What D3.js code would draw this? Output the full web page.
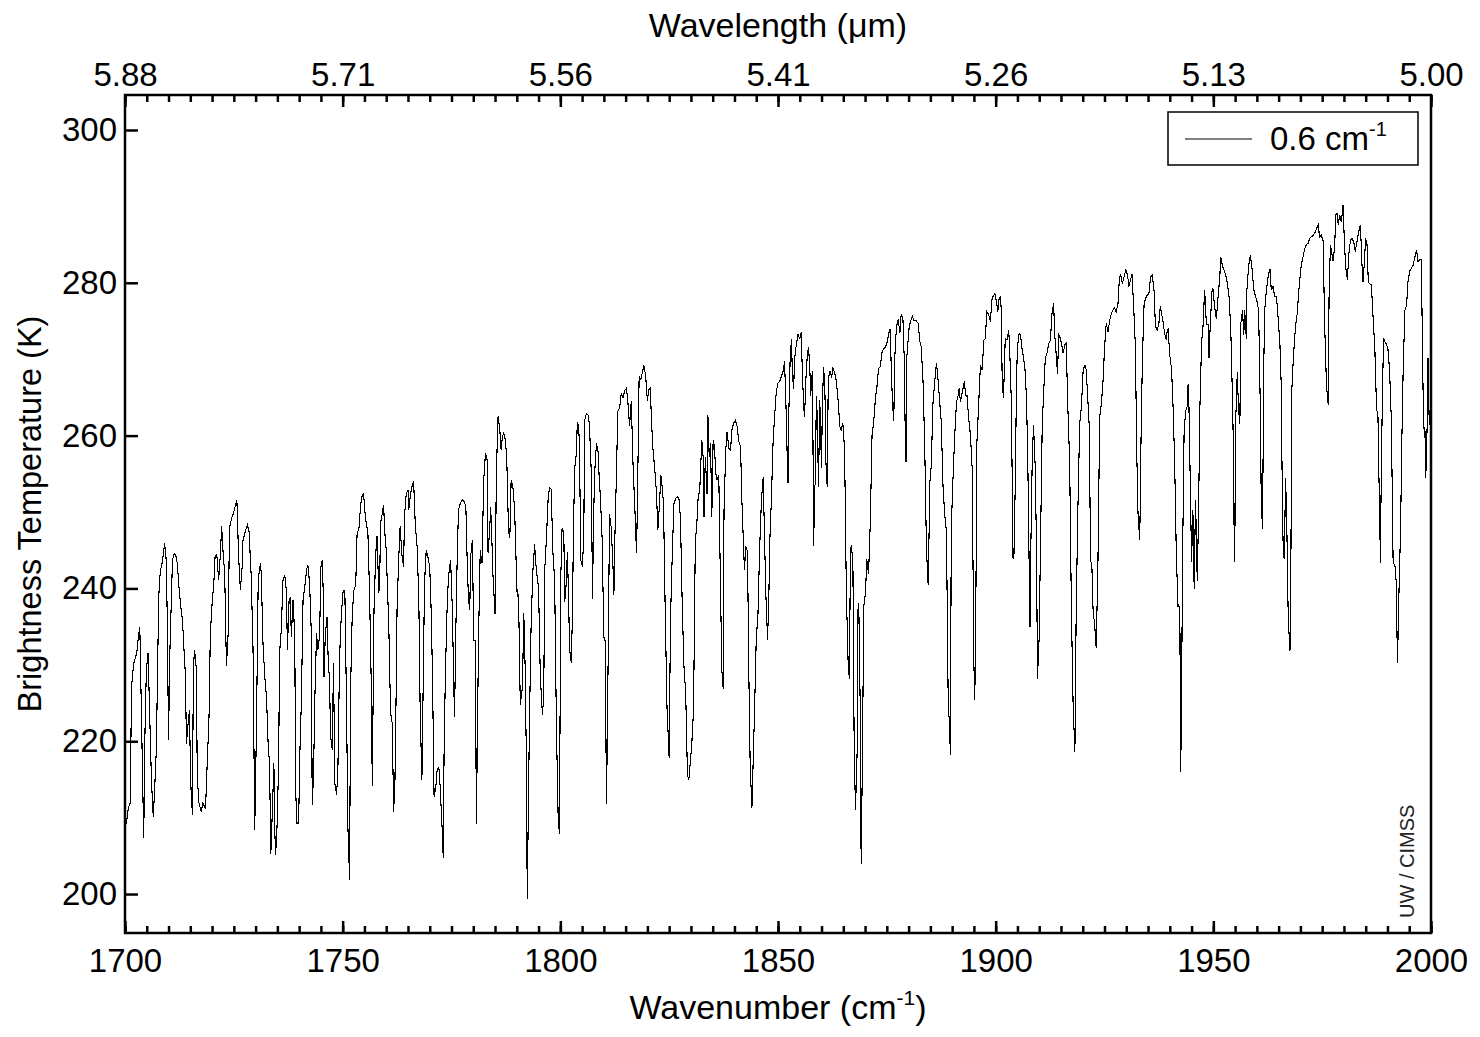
<!DOCTYPE html>
<html>
<head>
<meta charset="utf-8">
<script src="https://cdn.jsdelivr.net/npm/d3@7"></script>
<style>
  body { margin: 0; background: #fff; }
  figure { margin: 0; }
  svg { display: block; }
  text { font-family: "Liberation Sans", Arial, Helvetica, sans-serif; }
</style>
</head>
<body>
<figure id="spectrum"></figure>
<script>
// wavenumber (cm-1) and brightness temperature (K)
const wavenumber = [
  1700.0, 1700.3, 1700.8, 1701.2, 1701.5, 1702.0, 1702.7, 1703.0, 1703.4, 1703.8,
  1704.3, 1704.6, 1704.9, 1705.3, 1705.7, 1706.1, 1706.5, 1706.8, 1707.2, 1707.6,
  1707.8, 1708.1, 1708.6, 1709.1, 1709.5, 1709.7, 1710.0, 1710.3, 1710.9, 1711.3,
  1711.7, 1712.0, 1712.4, 1712.8, 1713.2, 1713.6, 1713.9, 1714.1, 1714.5, 1714.8,
  1715.1, 1715.5, 1715.7, 1716.0, 1716.4, 1716.6, 1717.0, 1717.5, 1717.9, 1718.5,
  1718.8, 1719.3, 1719.6, 1720.0, 1720.4, 1720.7, 1721.1, 1721.5, 1721.9, 1722.2,
  1722.5, 1722.9, 1723.3, 1723.7, 1724.0, 1724.5, 1724.9, 1725.3, 1725.7, 1726.1,
  1726.5, 1726.9, 1727.1, 1727.7, 1728.1, 1728.5, 1729.0, 1729.4, 1729.8, 1730.2,
  // 1730 - 1760
  1730.6, 1731.1, 1731.3, 1731.7, 1732.1, 1732.5, 1732.9, 1733.2, 1733.5, 1733.8,
  1734.2, 1734.4, 1734.6, 1734.9, 1735.3, 1735.5, 1735.9, 1736.3, 1736.7, 1737.1,
  1737.3, 1737.7, 1738.0, 1738.2, 1738.6, 1739.0, 1739.2, 1739.5, 1739.9, 1740.1,
  1740.5, 1740.9, 1741.3, 1741.7, 1742.0, 1742.4, 1742.8, 1743.0, 1743.3, 1743.6,
  1744.0, 1744.3, 1744.7, 1745.0, 1745.3, 1745.5, 1745.7, 1746.0, 1746.4, 1746.7,
  1747.0, 1747.2, 1747.6, 1747.9, 1748.2, 1748.6, 1748.9, 1749.3, 1749.7, 1750.1,
  1750.5, 1750.9, 1751.2, 1751.6, 1751.8, 1752.2, 1752.6, 1753.0, 1753.3, 1753.8,
  1754.1, 1754.5, 1754.8, 1755.2, 1755.8, 1756.2, 1756.6, 1756.8, 1757.2, 1757.6,
  1757.9, 1758.3, 1758.5, 1758.7, 1759.1, 1759.4, 1759.7, 1760.0,
  // 1760 - 1790
  1760.6, 1761.0, 1761.4, 1761.7, 1762.0, 1762.2, 1762.5, 1762.9, 1763.2, 1763.6,
  1764.0, 1764.2, 1764.6, 1765.0, 1765.2, 1765.5, 1765.9, 1766.3, 1766.7, 1767.1,
  1767.5, 1767.8, 1768.2, 1768.5, 1768.8, 1769.2, 1769.6, 1770.0, 1770.4, 1770.7,
  1771.0, 1771.4, 1771.7, 1772.1, 1772.4, 1772.9, 1773.1, 1773.3, 1773.6, 1774.0,
  1774.3, 1774.8, 1775.2, 1775.5, 1775.7, 1776.0, 1776.3, 1776.6, 1777.0, 1777.5,
  1777.9, 1778.3, 1778.6, 1778.9, 1779.2, 1779.4, 1779.8, 1780.1, 1780.5, 1780.7,
  1780.9, 1781.2, 1781.6, 1782.0, 1782.4, 1782.8, 1783.2, 1783.4, 1783.8, 1784.0,
  1784.3, 1784.5, 1785.0, 1785.3, 1785.7, 1786.1, 1786.4, 1786.7, 1787.0, 1787.4,
  1787.7, 1788.1, 1788.4, 1788.7, 1789.1, 1789.5, 1789.9, 1790.1,
  // 1790 - 1820
  1790.4, 1790.8, 1791.3, 1791.6, 1791.9, 1792.2, 1792.4, 1792.6, 1792.9, 1793.3,
  1793.7, 1794.1, 1794.3, 1794.6, 1795.0, 1795.4, 1795.9, 1796.2, 1796.4, 1796.8,
  1797.2, 1797.5, 1797.9, 1798.3, 1798.7, 1799.1, 1799.5, 1799.8, 1800.1, 1800.4,
  1800.8, 1801.0, 1801.4, 1801.6, 1801.9, 1802.1, 1802.5, 1802.8, 1803.0, 1803.3,
  1803.7, 1803.9, 1804.2, 1804.4, 1804.7, 1805.1, 1805.4, 1805.6, 1806.0, 1806.4,
  1806.7, 1807.1, 1807.4, 1807.6, 1807.9, 1808.3, 1808.7, 1808.9, 1809.2, 1809.6,
  1810.0, 1810.3, 1810.6, 1810.8, 1811.1, 1811.3, 1811.7, 1812.1, 1812.3, 1812.5,
  1812.9, 1813.2, 1813.6, 1814.0, 1814.4, 1814.8, 1815.2, 1815.5, 1815.9, 1816.3,
  1816.7, 1817.1, 1817.5, 1817.7, 1818.1, 1818.5, 1818.8, 1819.2, 1819.6, 1820.0,
  // 1820 - 1850
  1820.3, 1820.7, 1820.9, 1821.3, 1821.7, 1822.1, 1822.4, 1822.7, 1823.1, 1823.4,
  1823.7, 1824.1, 1824.5, 1825.0, 1825.3, 1825.7, 1826.1, 1826.5, 1826.9, 1827.3,
  1827.6, 1828.0, 1828.4, 1828.8, 1829.2, 1829.5, 1829.9, 1830.2, 1830.6, 1831.0,
  1831.4, 1831.7, 1832.0, 1832.2, 1832.5, 1832.8, 1833.0, 1833.3, 1833.7, 1833.9,
  1834.2, 1834.5, 1834.8, 1835.1, 1835.4, 1835.7, 1836.0, 1836.4, 1836.8, 1837.1,
  1837.4, 1837.6, 1838.0, 1838.3, 1838.7, 1839.1, 1839.4, 1839.8, 1840.2, 1840.6,
  1841.0, 1841.4, 1841.7, 1842.1, 1842.3, 1842.6, 1843.0, 1843.3, 1843.6, 1844.0,
  1844.3, 1844.6, 1845.0, 1845.4, 1845.8, 1846.2, 1846.6, 1846.8, 1847.2, 1847.6,
  1847.9, 1848.1, 1848.5, 1848.9, 1849.2, 1849.6,
  // 1850 - 1880
  1850.0, 1850.4, 1850.8, 1851.2, 1851.5, 1851.8, 1852.1, 1852.3, 1852.5, 1852.8,
  1853.1, 1853.3, 1853.6, 1853.8, 1854.2, 1854.6, 1855.0, 1855.3, 1855.6, 1855.9,
  1856.1, 1856.4, 1856.7, 1857.0, 1857.3, 1857.5, 1857.9, 1858.0, 1858.2, 1858.4,
  1858.6, 1858.8, 1859.0, 1859.3, 1859.6, 1860.0, 1860.2, 1860.5, 1860.8, 1861.0,
  1861.3, 1861.5, 1861.7, 1862.0, 1862.3, 1862.6, 1863.0, 1863.4, 1863.8, 1864.2,
  1864.5, 1864.9, 1865.3, 1865.7, 1866.1, 1866.4, 1866.6, 1866.8, 1867.2, 1867.5,
  1867.8, 1868.2, 1868.4, 1868.6, 1868.9, 1869.1, 1869.4, 1869.7, 1870.1, 1870.4,
  1870.8, 1871.2, 1871.6, 1872.0, 1872.4, 1872.7, 1873.1, 1873.5, 1873.9, 1874.3,
  1874.7, 1875.1, 1875.5, 1875.8, 1876.0, 1876.3, 1876.6, 1876.8, 1877.2, 1877.6,
  1878.0, 1878.3, 1878.7, 1879.0, 1879.2, 1879.4, 1879.6,
  // 1880 - 1910
  1880.1, 1880.4, 1880.9, 1881.2, 1881.6, 1882.2, 1882.6, 1882.9, 1883.3, 1883.7,
  1884.1, 1884.5, 1884.9, 1885.2, 1885.6, 1886.0, 1886.4, 1886.6, 1886.8, 1887.2,
  1887.5, 1887.9, 1888.3, 1888.7, 1889.1, 1889.4, 1889.6, 1889.8, 1890.2, 1890.6,
  1891.0, 1891.4, 1891.6, 1891.9, 1892.2, 1892.5, 1892.8, 1893.1, 1893.4, 1893.8,
  1894.2, 1894.6, 1895.0, 1895.2, 1895.4, 1895.7, 1896.1, 1896.5, 1896.9, 1897.3,
  1897.6, 1898.0, 1898.4, 1898.8, 1899.1, 1899.4, 1899.8, 1900.2, 1900.5, 1900.8,
  1901.1, 1901.3, 1901.5, 1901.8, 1902.2, 1902.6, 1903.0, 1903.2, 1903.6, 1904.0,
  1904.2, 1904.5, 1904.8, 1905.0, 1905.4, 1905.7, 1906.0, 1906.3, 1906.7, 1907.1,
  1907.4, 1907.7, 1907.9, 1908.1, 1908.4, 1908.7, 1909.1, 1909.4, 1909.6, 1910.0,
  // 1910 - 1940
  1910.3, 1910.7, 1911.0, 1911.4, 1911.8, 1912.2, 1912.6, 1912.9, 1913.3, 1913.6,
  1914.0, 1914.2, 1914.5, 1914.7, 1915.1, 1915.5, 1915.9, 1916.2, 1916.6, 1917.0,
  1917.4, 1917.8, 1918.2, 1918.5, 1918.9, 1919.3, 1919.7, 1920.1, 1920.5, 1920.8,
  1921.1, 1921.5, 1921.8, 1922.1, 1922.4, 1922.7, 1923.1, 1923.5, 1923.9, 1924.3,
  1924.7, 1925.0, 1925.4, 1925.8, 1926.2, 1926.6, 1926.9, 1927.3, 1927.7, 1928.1,
  1928.4, 1928.7, 1929.1, 1929.5, 1929.9, 1930.3, 1930.6, 1931.0, 1931.3, 1931.7,
  1932.1, 1932.4, 1932.7, 1933.1, 1933.4, 1933.7, 1934.1, 1934.5, 1934.8, 1935.2,
  1935.6, 1936.0, 1936.4, 1936.7, 1937.1, 1937.5, 1937.8, 1938.1, 1938.5, 1938.8,
  1939.2,
  // 1940 - 1970
  1939.4, 1939.6, 1940.0, 1940.4, 1940.7, 1941.1, 1941.5, 1941.9, 1942.3, 1942.5,
  1942.7, 1942.9, 1943.3, 1943.7, 1944.0, 1944.2, 1944.4, 1944.7, 1945.0, 1945.3,
  1945.6, 1945.9, 1946.1, 1946.3, 1946.6, 1946.9, 1947.3, 1947.6, 1948.0, 1948.4,
  1948.8, 1949.0, 1949.3, 1949.7, 1949.9, 1950.3, 1950.7, 1951.1, 1951.5, 1951.7,
  1952.1, 1952.5, 1952.9, 1953.2, 1953.6, 1954.0, 1954.4, 1954.7, 1954.8, 1955.0,
  1955.1, 1955.5, 1955.8, 1956.1, 1956.3, 1956.7, 1957.0, 1957.2, 1957.6, 1957.7,
  1958.1, 1958.5, 1958.9, 1959.3, 1959.7, 1960.0, 1960.4, 1960.8, 1961.0, 1961.3,
  1961.6, 1961.8, 1962.2, 1962.6, 1963.0, 1963.3, 1963.7, 1964.1, 1964.5, 1964.9,
  1965.3, 1965.6, 1965.9, 1966.1, 1966.3, 1966.6, 1966.9, 1967.2, 1967.6, 1967.8,
  1968.0, 1968.3, 1968.7, 1969.1, 1969.3,
  // 1970 - 2000
  1969.5, 1969.8, 1970.2, 1970.6, 1971.0, 1971.4, 1971.8, 1972.1, 1972.5, 1972.9,
  1973.3, 1973.7, 1974.1, 1974.4, 1974.8, 1975.2, 1975.6, 1976.0, 1976.4, 1976.6,
  1976.9, 1977.2, 1977.5, 1977.9, 1978.1, 1978.4, 1978.7, 1979.0, 1979.4, 1979.8,
  1980.1, 1980.4, 1980.8, 1981.1, 1981.5, 1981.9, 1982.3, 1982.6, 1983.0, 1983.4,
  1983.8, 1984.1, 1984.4, 1984.7, 1985.0, 1985.3, 1985.6, 1985.9, 1986.3, 1986.7,
  1987.1, 1987.5, 1987.8, 1988.1, 1988.4, 1988.5, 1988.8, 1989.1, 1989.4, 1989.8,
  1990.1, 1990.5, 1990.9, 1991.3, 1991.7, 1992.0, 1992.3, 1992.7, 1993.0, 1993.3,
  1993.6, 1994.0, 1994.4, 1994.7, 1995.1, 1995.5, 1995.9, 1996.3, 1996.7, 1997.0,
  1997.4, 1997.8, 1998.0, 1998.3, 1998.6, 1998.8, 1999.1, 1999.3, 1999.6, 2000.0
];

const brightnessTemp = [
  211.0, 209.2, 211.4, 211.9, 227.1, 230.2, 231.5, 233.2, 235.0, 222.8,
  207.3, 221.5, 229.3, 231.5, 222.8, 214.5, 210.1, 213.6, 218.9, 233.7,
  239.4, 242.2, 243.5, 245.9, 243.5, 236.3, 220.2, 231.5, 243.7, 244.6,
  244.2, 243.3, 240.2, 237.6, 235.9, 231.5, 228.4, 219.7, 222.3, 224.1,
  214.5, 210.3, 229.8, 231.9, 229.3, 215.3, 211.9, 210.8, 211.9, 211.2,
  215.8, 223.2, 234.1, 238.0, 240.7, 244.2, 244.4, 241.1, 244.4, 248.1,
  245.0, 242.0, 229.8, 234.1, 247.9, 249.2, 249.8, 250.7, 251.6, 244.2,
  239.8, 242.8, 246.3, 247.6, 248.3, 247.4, 241.5, 232.4, 208.4, 221.9,
  // 1730 - 1760
  241.1, 243.3, 242.0, 232.8, 228.5, 225.8, 219.3, 217.1, 205.3, 210.0,
  217.1, 208.4, 205.1, 208.4, 217.1, 231.5, 234.6, 241.1, 241.8, 239.4,
  232.0, 238.5, 238.9, 233.7, 238.5, 233.7, 213.6, 209.3, 209.3, 217.1,
  225.0, 238.5, 240.2, 242.4, 243.1, 240.7, 234.1, 211.6, 215.4, 225.4,
  234.1, 232.0, 233.7, 242.8, 243.7, 240.2, 228.4, 233.7, 236.3, 230.2,
  228.0, 220.8, 218.9, 230.2, 214.5, 213.0, 216.2, 231.1, 236.7, 239.6,
  239.8, 224.1, 208.8, 201.8, 226.3, 236.7, 239.8, 240.4, 247.0, 248.1,
  250.9, 252.2, 252.4, 249.4, 247.2, 238.9, 226.5, 214.1, 237.2, 244.6,
  246.8, 239.4, 240.7, 248.5, 249.8, 250.9, 247.2, 245.0,
  // 1760 - 1790
  235.0, 223.7, 222.3, 210.8, 214.5, 222.3, 237.6, 244.2, 248.1, 244.5,
  242.8, 249.4, 252.4, 252.9, 250.3, 252.0, 253.3, 254.0, 248.1, 245.5,
  238.3, 224.1, 214.9, 227.6, 240.7, 245.0, 244.1, 242.8, 235.9, 225.8,
  212.7, 214.0, 216.2, 216.6, 214.0, 208.0, 204.7, 218.8, 228.9, 237.6,
  241.5, 243.7, 237.2, 228.0, 223.2, 234.6, 243.7, 250.3, 251.1, 251.6,
  251.4, 250.7, 243.7, 238.5, 237.2, 244.2, 246.3, 233.2, 233.2, 209.2,
  218.0, 233.2, 245.0, 243.3, 254.2, 257.7, 256.8, 244.6, 248.1, 250.7,
  245.9, 242.0, 236.7, 255.1, 262.5, 260.7, 258.1, 259.9, 260.3, 259.4,
  256.8, 247.6, 246.6, 254.2, 253.3, 250.3, 242.4, 238.9,
  // 1790 - 1820
  239.1, 224.8, 227.1, 236.8, 230.0, 217.8, 199.3, 208.6, 222.4, 235.6,
  242.3, 245.8, 243.7, 241.9, 240.0, 228.5, 223.4, 226.2, 242.3, 246.5,
  251.8, 253.2, 253.0, 244.7, 241.0, 222.0, 210.0, 207.9, 241.4, 247.9,
  247.4, 238.2, 241.0, 244.7, 239.1, 232.2, 230.3, 236.8, 247.4, 255.7,
  257.8, 261.8, 261.3, 258.5, 243.7, 242.8, 247.9, 262.0, 262.9, 262.7,
  261.3, 255.3, 238.6, 248.3, 255.3, 259.0, 257.8, 254.8, 252.0, 246.5,
  233.6, 233.1, 211.8, 221.0, 237.2, 249.7, 247.9, 242.8, 239.1, 246.0,
  255.3, 263.2, 263.6, 265.5, 265.0, 265.9, 266.2, 264.5, 261.3, 264.5,
  256.2, 250.7, 244.7, 250.7, 267.8, 267.3, 268.2, 269.2, 267.8, 264.5,
  // 1820 - 1850
  266.0, 266.2, 262.3, 258.1, 255.5, 252.4, 247.6, 250.3, 254.8, 253.3,
  251.1, 236.7, 224.5, 217.8, 235.9, 244.2, 251.1, 251.8, 252.0, 251.6,
  249.0, 237.8, 229.8, 226.3, 215.6, 214.9, 217.5, 219.7, 224.1, 245.9,
  249.0, 252.4, 252.4, 255.5, 259.4, 257.2, 249.4, 257.2, 252.4, 262.7,
  257.2, 259.0, 249.4, 259.4, 258.6, 255.1, 254.2, 254.8, 239.8, 229.3,
  226.9, 250.3, 258.1, 260.5, 258.3, 258.1, 260.7, 261.6, 262.0, 261.2,
  259.2, 258.6, 251.6, 245.2, 242.4, 245.5, 244.8, 228.9, 217.1, 211.2,
  217.5, 223.7, 233.3, 236.7, 245.5, 251.6, 254.6, 249.4, 239.4, 233.3,
  238.9, 245.9, 252.0, 259.7, 262.3, 265.7,
  // 1850 - 1880
  266.9, 267.1, 267.8, 268.5, 269.7, 264.7, 257.6, 253.8, 263.3, 270.2,
  272.6, 268.1, 266.1, 270.0, 271.9, 273.3, 272.6, 273.5, 268.3, 263.8,
  262.4, 267.3, 270.2, 271.6, 269.0, 265.2, 268.5, 261.9, 245.5, 253.3,
  253.8, 265.2, 262.8, 253.3, 264.7, 255.7, 264.7, 269.0, 265.2, 256.6,
  253.3, 264.7, 267.8, 268.5, 267.6, 268.8, 268.3, 267.1, 264.7, 261.2,
  260.7, 261.6, 258.1, 239.5, 230.5, 228.1, 241.9, 245.7, 243.8, 219.1,
  211.0, 219.1, 238.1, 236.2, 223.8, 203.9, 218.1, 237.6, 239.5, 243.8,
  241.9, 248.6, 260.0, 261.9, 265.0, 266.2, 268.8, 269.0, 270.9, 271.4,
  271.6, 272.3, 273.5, 274.0, 269.0, 264.3, 261.9, 270.0, 274.2, 275.2,
  273.5, 275.9, 275.2, 270.0, 261.4, 256.6, 270.4,
  // 1880 - 1910
  274.0, 274.9, 275.6, 275.1, 275.1, 274.7, 272.3, 271.6, 267.3, 258.8,
  245.2, 240.4, 254.0, 256.1, 264.2, 267.1, 269.5, 268.4, 267.1, 264.0,
  261.8, 253.5, 249.6, 247.4, 225.0, 222.1, 218.2, 247.9, 254.4, 260.1,
  264.4, 265.3, 266.2, 264.4, 265.3, 266.2, 267.1, 265.3, 265.3, 262.3,
  260.1, 255.7, 230.0, 225.4, 233.9, 259.2, 264.2, 269.2, 268.6, 272.5,
  272.7, 276.2, 275.8, 274.9, 277.7, 278.2, 278.6, 277.5, 276.2, 278.0,
  278.2, 276.2, 267.1, 264.9, 272.7, 272.5, 273.8, 271.6, 264.4, 243.9,
  244.4, 253.5, 267.5, 271.6, 273.4, 273.2, 271.6, 270.5, 269.0, 264.7,
  255.9, 242.6, 235.0, 246.1, 257.0, 261.4, 255.7, 244.4, 228.2, 233.7,
  // 1910 - 1940
  245.9, 261.6, 265.3, 270.1, 270.8, 272.1, 272.5, 275.8, 277.3, 273.0,
  269.9, 268.1, 273.2, 273.0, 272.1, 270.8, 271.9, 272.1, 263.3, 256.6,
  237.0, 224.5, 218.6, 237.2, 250.7, 261.6, 263.8, 268.6, 269.2, 268.6,
  265.5, 261.2, 243.7, 242.9, 236.7, 235.6, 232.2, 243.7, 262.5, 264.2,
  267.5, 271.4, 274.7, 273.6, 275.1, 276.0, 276.4, 276.7, 276.2, 277.3,
  280.4, 281.2, 279.9, 280.8, 281.7, 281.0, 279.5, 280.4, 281.2, 276.9,
  271.6, 258.1, 249.8, 246.3, 259.9, 269.9, 277.3, 278.0, 278.4, 278.6,
  280.8, 281.0, 278.8, 274.3, 273.8, 274.7, 276.9, 276.0, 274.7, 273.4,
  272.5,
  // 1940 - 1970
  273.7, 273.9, 270.5, 268.7, 264.7, 257.0, 244.4, 237.6, 237.6, 216.0,
  224.6, 242.3, 261.1, 263.3, 263.8, 266.7, 263.8, 253.9, 243.5, 250.3,
  239.9, 251.6, 247.1, 241.0, 249.4, 263.3, 272.3, 273.9, 279.1, 274.6,
  274.6, 270.1, 274.6, 278.9, 279.3, 276.8, 275.3, 278.2, 280.9, 283.4,
  282.2, 281.6, 280.9, 280.0, 278.2, 274.1, 264.7, 255.7, 243.5, 248.9,
  261.3, 268.3, 263.3, 261.5, 274.6, 276.4, 273.2, 276.4, 272.6, 278.9,
  282.2, 283.6, 281.8, 279.1, 278.2, 277.7, 276.4, 263.3, 251.6, 247.8,
  269.6, 276.4, 279.1, 280.9, 281.8, 279.1, 279.5, 278.2, 278.2, 275.3,
  271.9, 266.5, 248.9, 244.4, 243.9, 254.5, 247.5, 236.3, 231.8, 240.8,
  265.6, 269.2, 273.0, 275.4, 276.0,
  // 1970 - 2000
  278.0, 280.1, 282.3, 283.4, 284.5, 285.0, 285.2, 285.8, 286.0, 286.2,
  286.5, 287.1, 287.6, 286.0, 286.2, 285.6, 274.0, 266.4, 264.0, 279.3,
  284.9, 283.9, 282.8, 285.0, 288.9, 289.1, 287.6, 288.9, 288.0, 290.2,
  285.4, 282.1, 280.4, 283.6, 285.6, 285.8, 285.2, 284.1, 285.4, 286.7,
  287.6, 282.8, 280.1, 282.8, 285.8, 285.0, 280.1, 279.9, 279.7, 275.4,
  271.4, 263.3, 263.1, 252.7, 243.3, 250.9, 264.0, 272.7, 272.3, 271.9,
  271.4, 268.4, 261.8, 243.3, 243.1, 240.9, 230.2, 240.9, 247.4, 259.2,
  268.4, 276.4, 277.1, 280.1, 281.5, 281.9, 282.3, 283.4, 284.3, 282.8,
  283.0, 283.0, 273.0, 261.0, 261.0, 254.4, 261.0, 270.1, 261.4, 262.0
];

const xTicks = [1700, 1750, 1800, 1850, 1900, 1950, 2000];
const wavelengthLabels = ["5.88", "5.71", "5.56", "5.41", "5.26", "5.13", "5.00"];
const yTicks = [200, 220, 240, 260, 280, 300];
const legendLabel = "0.6 cm";

const width = 1480;
const height = 1037;
const plot = { left: 125, right: 1431, top: 95, bottom: 933 };
const tickFont = 33;
const titleFont = 34;

const x = d3.scaleLinear().domain([1700, 2000]).range([plot.left, plot.right]);
const y = d3.scaleLinear().domain([194.9, 304.58]).range([plot.bottom, plot.top]);

const svg = d3.select("figure#spectrum")
  .append("svg")
  .attr("width", width)
  .attr("height", height);

function styleAxis(g) {
  g.attr("font-size", tickFont)
    .attr("font-family", null);
  g.select(".domain").remove();
  g.selectAll(".tick line").attr("stroke-width", 2.5);
  g.selectAll(".tick text").attr("fill", "#000");
}

function drawAxes() {
  const minor = d3.range(1700, 2001, 5);

  // bottom: minor then major with labels
  svg.append("g")
    .attr("transform", `translate(0,${plot.bottom})`)
    .call(d3.axisBottom(x).tickValues(minor).tickFormat("").tickSizeInner(-7).tickSizeOuter(0))
    .call(styleAxis);
  svg.append("g")
    .attr("transform", `translate(0,${plot.bottom})`)
    .call(d3.axisBottom(x).tickValues(xTicks).tickFormat(d3.format("d"))
      .tickSizeInner(-12).tickSizeOuter(0).tickPadding(16))
    .call(styleAxis);

  // top: wavelength labels at the same positions
  svg.append("g")
    .attr("transform", `translate(0,${plot.top})`)
    .call(d3.axisTop(x).tickValues(minor).tickFormat("").tickSizeInner(-7).tickSizeOuter(0))
    .call(styleAxis);
  svg.append("g")
    .attr("transform", `translate(0,${plot.top})`)
    .call(d3.axisTop(x).tickValues(xTicks).tickFormat((d, i) => wavelengthLabels[i])
      .tickSizeInner(-12).tickSizeOuter(0).tickPadding(9))
    .call(styleAxis);

  // left
  svg.append("g")
    .attr("transform", `translate(${plot.left},0)`)
    .call(d3.axisLeft(y).tickValues(yTicks).tickFormat(d3.format("d"))
      .tickSizeInner(-13).tickSizeOuter(0).tickPadding(8))
    .call(styleAxis);

  // frame
  svg.append("rect")
    .attr("x", plot.left)
    .attr("y", plot.top)
    .attr("width", plot.right - plot.left)
    .attr("height", plot.bottom - plot.top)
    .attr("fill", "none")
    .attr("stroke", "#000")
    .attr("stroke-width", 2.5);
}

function drawLine() {
  const points = d3.zip(wavenumber, brightnessTemp);
  const line = d3.line()
    .x(d => x(d[0]))
    .y(d => y(d[1]));

  svg.append("path")
    .datum(points)
    .attr("d", line)
    .attr("fill", "none")
    .attr("stroke", "#000")
    .attr("stroke-width", 1.1)
    .attr("shape-rendering", "crispEdges");
}

function drawTitles() {
  const mid = (plot.left + plot.right) / 2;

  svg.append("text")
    .attr("x", mid)
    .attr("y", 37)
    .attr("text-anchor", "middle")
    .attr("font-size", titleFont)
    .text("Wavelength (\u03bcm)");

  const xt = svg.append("text")
    .attr("x", mid)
    .attr("y", 1019)
    .attr("text-anchor", "middle")
    .attr("font-size", titleFont);
  xt.append("tspan").text("Wavenumber (cm");
  xt.append("tspan").attr("dy", -14).attr("font-size", 21).text("-1");
  xt.append("tspan").attr("dy", 14).text(")");

  svg.append("text")
    .attr("transform", `translate(41,${(plot.top + plot.bottom) / 2}) rotate(-90)`)
    .attr("text-anchor", "middle")
    .attr("font-size", 32.5)
    .text("Brightness Temperature (K)");

  svg.append("text")
    .attr("transform", "translate(1414,918) rotate(-90)")
    .attr("font-size", 20)
    .attr("fill", "#222")
    .text("UW / CIMSS");
}

function drawLegend() {
  const g = svg.append("g");
  g.append("rect")
    .attr("x", 1168).attr("y", 112)
    .attr("width", 250).attr("height", 53)
    .attr("fill", "#fff")
    .attr("stroke", "#000")
    .attr("stroke-width", 1.5);
  g.append("line")
    .attr("x1", 1185).attr("x2", 1252)
    .attr("y1", 139).attr("y2", 139)
    .attr("stroke", "#000")
    .attr("stroke-width", 1.1);
  const t = g.append("text")
    .attr("x", 1270)
    .attr("y", 150)
    .attr("font-size", tickFont);
  t.append("tspan").text(legendLabel);
  t.append("tspan").attr("dy", -14).attr("font-size", 20).text("-1");
}

drawLine();
drawAxes();
drawTitles();
drawLegend();
</script>
</body>
</html>
